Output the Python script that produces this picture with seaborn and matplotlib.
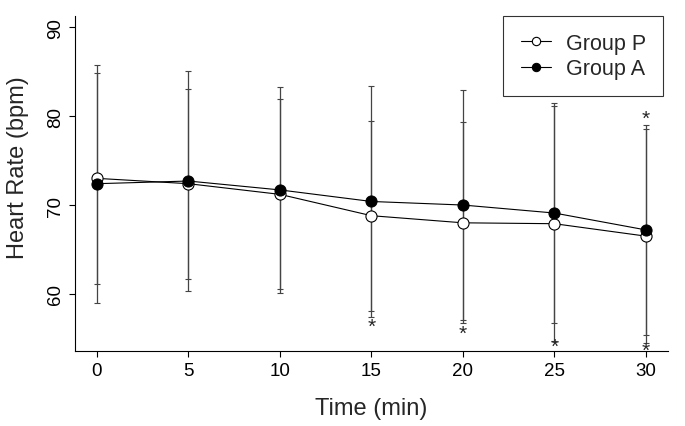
import numpy as np
import pandas as pd
import matplotlib
matplotlib.use("Agg")
import matplotlib.pyplot as plt
import seaborn as sns

# Values
time = [0, 5, 10, 15, 20, 25, 30]
p_mean = [73.0, 72.4, 71.2, 68.8, 68.0, 67.9, 66.5]
p_sd = [11.9, 10.7, 10.7, 10.7, 11.3, 13.2, 12.0]
a_mean = [72.4, 72.7, 71.7, 70.4, 70.0, 69.1, 67.2]
a_sd = [13.4, 12.4, 11.6, 13.0, 12.9, 12.4, 11.8]

# significance markers (time, heart rate)
star_time = [15, 20, 25, 30, 30]
star_hr = [56.4, 55.6, 54.15, 53.7, 79.7]

sns.set_style("ticks")
plt.rcParams['font.family'] = ['Liberation Sans', 'DejaVu Sans']

df = pd.DataFrame({
    'time': time * 2,
    'hr': p_mean + a_mean,
    'group': ['Group P'] * len(time) + ['Group A'] * len(time),
})

fig, ax = plt.subplots(figsize=(6.85, 4.27), dpi=100)
fig.subplots_adjust(left=0.1095, right=0.975, bottom=0.176, top=0.961)

# error bars first so the markers sit on top
ax.errorbar(time, p_mean, yerr=p_sd, fmt='none', ecolor='#444444',
            elinewidth=0.9, capsize=2.2, capthick=0.8, zorder=1)
ax.errorbar(time, a_mean, yerr=a_sd, fmt='none', ecolor='#444444',
            elinewidth=0.9, capsize=2.2, capthick=0.8, zorder=1)

sns.lineplot(data=df[df.group == 'Group P'], x='time', y='hr', ax=ax,
             color='black', linewidth=0.8, marker='o', markersize=8,
             markerfacecolor='white', markeredgecolor='black',
             markeredgewidth=0.8, label='Group P', zorder=3)
sns.lineplot(data=df[df.group == 'Group A'], x='time', y='hr', ax=ax,
             color='black', linewidth=0.8, marker='o', markersize=8,
             markerfacecolor='black', markeredgecolor='black',
             label='Group A', zorder=4)

for t, h in zip(star_time, star_hr):
    ax.text(t, h, '*', ha='center', va='center', fontsize=15,
            clip_on=False, zorder=5)

ax.set_xlim(-1.2, 31.2)
ax.set_ylim(53.6, 91.3)
ax.set_xticks(time)
ax.set_yticks([60, 70, 80, 90])
ax.tick_params(axis='both', labelsize=13.5, length=4.5, width=0.8,
               color='black', labelcolor='black')
for lab in ax.get_yticklabels():
    lab.set_rotation(90)
    lab.set_va('center')

ax.set_xlabel('Time (min)', fontsize=17, labelpad=13)
ax.set_ylabel('Heart Rate (bpm)', fontsize=17)
ax.yaxis.set_label_coords(-0.077, 0.55)

sns.despine(ax=ax)
for s in ['left', 'bottom']:
    ax.spines[s].set_color('black')
    ax.spines[s].set_linewidth(0.8)

leg = ax.legend(loc='upper right', fontsize=15.5, frameon=True, fancybox=False,
                edgecolor='black', handlelength=1.4, handletextpad=0.7,
                borderpad=0.8, labelspacing=0.2, markerscale=0.75,
                bbox_to_anchor=(0.992, 1.0), borderaxespad=0)
leg.get_frame().set_linewidth(0.8)

fig.savefig('out.png', dpi=100)
